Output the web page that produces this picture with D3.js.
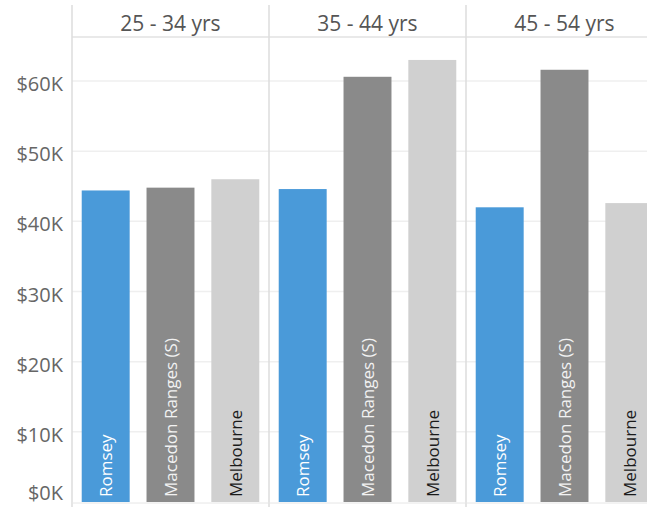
<!DOCTYPE html>
<html>
<head>
<meta charset="utf-8">
<script src="https://cdn.jsdelivr.net/npm/d3@7"></script>
<style>
  html, body { margin: 0; padding: 0; background: #fff; }
  svg { display: block; font-family: "Open Sans", "Noto Sans", sans-serif; }
</style>
</head>
<body>
<svg id="chart" width="647" height="507"></svg>
<script>
// Median income by age group: Romsey vs Macedon Ranges (S) vs Melbourne
const ageGroups = ["25 - 34 yrs", "35 - 44 yrs", "45 - 54 yrs"];
const areas = ["Romsey", "Macedon Ranges (S)", "Melbourne"];
const romsey = [44400, 44600, 42000];
const macedon = [44800, 60600, 61600];
const melbourne = [46000, 63000, 42600];
const yTicks = [0, 10000, 20000, 30000, 40000, 50000, 60000];

const seriesValues = [romsey, macedon, melbourne];
const areaColors = ["#4a9ad9", "#8a8a8a", "#d0d0d0"];
const labelColors = ["#ffffff", "#f2f2f2", "#1a1a1a"];

const svg = d3.select("#chart");
const W = 647, H = 507;
const left = 72, panelW = 197, headerY = 37, topY = 5;

const y = d3.scaleLinear().domain([0, 60000]).range([502, 81]);
const panelX = d3.scaleBand().domain(ageGroups)
  .range([left, left + panelW * ageGroups.length]);
const barX = d3.scaleBand().domain(areas)
  .range([0, panelW]).paddingInner(0.26).paddingOuter(0.15);

// horizontal gridlines
svg.append("g").selectAll("line").data(yTicks.filter(d => d > 0)).join("line")
  .attr("x1", left).attr("x2", W)
  .attr("y1", d => y(d)).attr("y2", d => y(d))
  .attr("stroke", "#efefef").attr("stroke-width", 1.5);

// header rule
svg.append("line").attr("x1", left).attr("x2", W)
  .attr("y1", headerY).attr("y2", headerY)
  .attr("stroke", "#e2e2e2").attr("stroke-width", 1.5);

// panel dividers
svg.append("g").selectAll("line").data(ageGroups).join("line")
  .attr("x1", d => panelX(d)).attr("x2", d => panelX(d))
  .attr("y1", topY).attr("y2", H)
  .attr("stroke", "#dcdcdc").attr("stroke-width", 1.5);

// panel titles
svg.append("g").selectAll("text").data(ageGroups).join("text")
  .attr("x", d => panelX(d) + panelW / 2)
  .attr("y", 31)
  .attr("text-anchor", "middle")
  .attr("font-size", 21)
  .attr("fill", "#555")
  .text(d => d);

// y axis labels (the zero label is lifted so it stays inside the frame)
const yAxis = svg.append("g")
  .attr("transform", `translate(${left - 9},0)`)
  .call(d3.axisLeft(y).tickValues(yTicks).tickSize(0).tickPadding(0)
    .tickFormat(d => "$" + d / 1000 + "K"));
yAxis.select(".domain").remove();
yAxis.selectAll("text")
  .attr("font-family", "\"Open Sans\", \"Noto Sans\", sans-serif")
  .attr("font-size", 20)
  .attr("fill", "#666")
  .attr("dy", d => d === 0 ? "-0.15em" : "0.48em");

// bars and in-bar labels
const panels = svg.append("g").selectAll("g").data(ageGroups).join("g")
  .attr("transform", d => `translate(${panelX(d)},0)`);

panels.each(function (group, gi) {
  const g = d3.select(this);
  const rows = areas.map((a, ai) => ({ area: a, ai, value: seriesValues[ai][gi] }));
  g.selectAll("rect").data(rows).join("rect")
    .attr("x", d => barX(d.area))
    .attr("width", barX.bandwidth())
    .attr("y", d => y(d.value))
    .attr("height", d => y(0) - y(d.value))
    .attr("fill", d => areaColors[d.ai]);
  g.selectAll("text").data(rows).join("text")
    .attr("transform", d => `translate(${barX(d.area) + barX.bandwidth() / 2},${y(0) - 5}) rotate(-90)`)
    .attr("text-anchor", "start")
    .attr("dominant-baseline", "central")
    .attr("font-size", 17)
    .attr("fill", d => labelColors[d.ai])
    .text(d => d.area);
});

// baseline
svg.append("line").attr("x1", left).attr("x2", W)
  .attr("y1", y(0) + 1).attr("y2", y(0) + 1)
  .attr("stroke", "#e6e6e6").attr("stroke-width", 1);
</script>
</body>
</html>
